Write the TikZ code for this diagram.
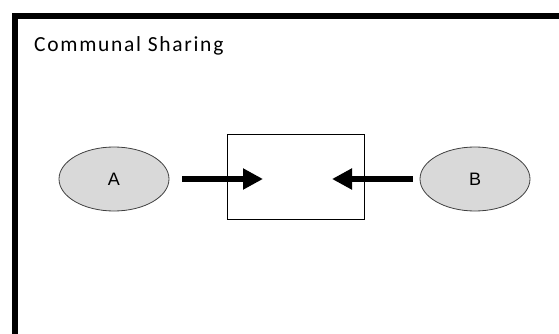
\documentclass[tikz,border=0pt]{standalone}
\usepackage{fontspec}
\setmainfont{Carlito}
\newfontfamily\labelfont{Liberation Sans}
\usetikzlibrary{arrows.meta,shapes.geometric}

\tikzset{
  party/.style={ellipse, draw=black!75, line width=0.8pt, fill=black!15,
    minimum width=110pt, minimum height=64pt, inner sep=0pt,
    font=\labelfont\fontsize{18}{18}\selectfont},
  pool/.style={draw=black, line width=0.8pt, minimum width=137pt,
    minimum height=85pt, inner sep=0pt},
  flow/.style={line width=6pt, -{Triangle[length=20pt,width=20pt]}},
  frame/.style={line width=6.5pt, line join=miter}
}

\begin{document}
\begin{tikzpicture}[x=1pt, y=-1pt]
  \useasboundingbox (0,0) rectangle (559,334);

  % outer frame (runs past the right and bottom edges)
  \draw[frame] (15,345) -- (15,16) -- (570,16);

  % title
  \node[anchor=base west, inner sep=0pt,
        font=\addfontfeature{LetterSpace=8}\fontsize{21.5}{21.5}\selectfont]
    (title) at (34,52) {Communal Sharing};

  % two parties and the shared pool
  \node[party] (A) at (114,179) {A};
  \node[party] (B) at (475,179) {B};
  \node[pool]  (P) at (295.5,176.5) {};

  % contributions into the pool
  \coordinate (tipA) at (263,179);
  \coordinate (tipB) at (332,179);
  \draw[flow, shorten <=13pt] (A.east) -- (tipA);
  \draw[flow, shorten <=7pt] (B.west) -- (tipB);
\end{tikzpicture}
\end{document}
